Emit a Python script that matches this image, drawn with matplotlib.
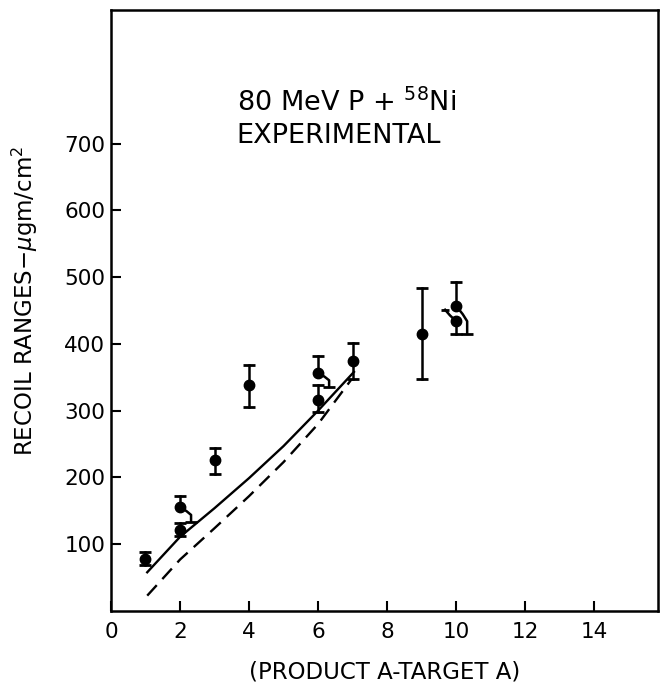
import matplotlib
matplotlib.use('Agg')
import matplotlib.pyplot as plt
import numpy as np

# experimental recoil ranges (ug/cm^2) vs (product A - target A)
dA = [1, 2, 2, 3, 4, 6, 6, 7, 9, 10, 10]
rng = [78, 156, 122, 226, 339, 357, 316, 375, 415, 457, 434]
err_up = [10, 16, 10, 18, 29, 25, 22, 27, 68, 36, 19]
err_dn = [9, 22, 10, 21, 33, 21, 18, 28, 67, 42, 19]
# side to which an overlapping error bar is bent (0 = straight)
bend_dn = [0, 1, 0, 0, 0, 1, 0, 0, 0, 1, 0]
bend_up = [0, 0, 0, 0, 0, 0, 0, 0, 0, 0, -1]

# calculated curves
calc_x = [1.05, 2, 3, 4, 5, 6, 7.04]
calc_solid = [58, 111, 154, 199, 247, 300, 358]
calc_x2 = [1.05, 2, 3, 4, 5, 6, 6.97]
calc_dash = [23, 77, 124, 172, 223, 280, 347]

plt.rcParams['font.family'] = ['DejaVu Sans']
fig = plt.figure(figsize=(6.63, 6.83), dpi=100)
ax = fig.add_axes([0.1674, 0.1054, 0.8251, 0.88])

ax.plot(calc_x, calc_solid, color='black', lw=1.7)
ax.plot(calc_x2, calc_dash, color='black', lw=1.7, linestyle=(0, (6, 3.5)))

bw = 0.32  # horizontal size of a bent bar
for x, y, eu, ed, bu, bd in zip(dA, rng, err_up, err_dn, bend_up, bend_dn):
    ax.plot(x, y, 'o', color='black', ms=7.5)
    # upper half
    if bu == 0:
        ax.plot([x, x], [y, y + eu], color='black', lw=1.8)
        ax.plot(x, y + eu, marker='_', color='black', ms=8, mew=2)
    else:
        px = [x, x + 0.55 * bu * bw, x + bu * bw]
        py = [y, y + 0.45 * eu, y + 0.9 * eu]
        ax.plot(px, py, color='black', lw=1.8)
        ax.plot(x + bu * bw, y + 0.9 * eu, marker='_', color='black', ms=6, mew=2)
    # lower half
    if bd == 0:
        ax.plot([x, x], [y, y - ed], color='black', lw=1.8)
        ax.plot(x, y - ed, marker='_', color='black', ms=8, mew=2)
    else:
        px = [x, x + 0.6 * bd * bw, x + bd * bw, x + bd * bw]
        py = [y, y - 0.3 * ed, y - 0.55 * ed, y - ed]
        ax.plot(px, py, color='black', lw=1.8)
        ax.plot(x + bd * bw, y - ed, marker='_', color='black', ms=8, mew=2)

ax.set_xlim(0, 15.85)
ax.set_ylim(0, 900)
ax.set_xticks(np.arange(0, 15, 2))
ax.set_yticks(np.arange(100, 800, 100))
ax.tick_params(direction='in', length=7, width=1.5, labelsize=15.5)
ax.tick_params(axis='x', pad=8)
ax.tick_params(axis='y', pad=4)
for s in ax.spines.values():
    s.set_linewidth(1.8)

ax.set_xlabel('(PRODUCT A-TARGET A)', fontsize=16.5, labelpad=13)
fig.text(0.038, 0.56, r'RECOIL RANGES$-\mu$gm/cm$^2$', rotation=90,
         ha='center', va='center', fontsize=16.5)

ax.text(0.23, 0.845, r'80 MeV P + $^{58}$Ni', transform=ax.transAxes,
        fontsize=19.5, va='center', ha='left')
ax.text(0.23, 0.79, 'EXPERIMENTAL', transform=ax.transAxes,
        fontsize=19.5, va='center', ha='left')

fig.savefig('out.png', dpi=100)
